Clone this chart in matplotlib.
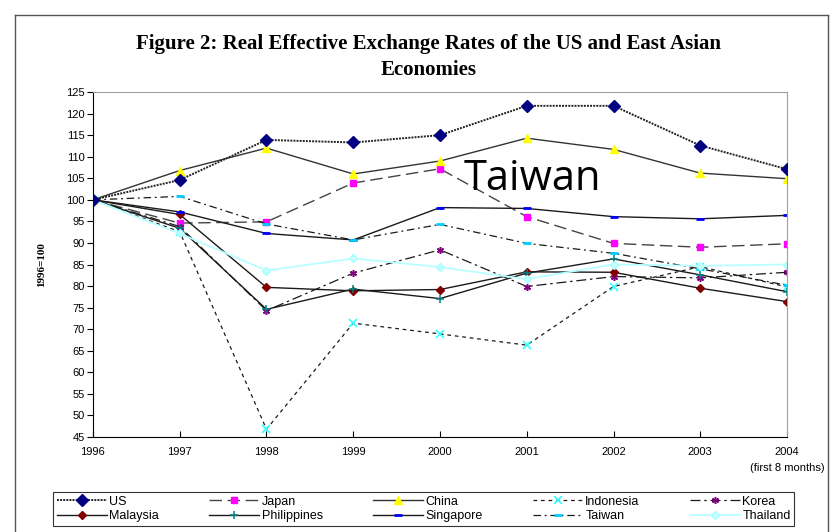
import matplotlib.pyplot as plt
from matplotlib.lines import Line2D

# REER index, 1996 = 100
years = [1996, 1997, 1998, 1999, 2000, 2001, 2002, 2003, 2004]
year_labels = ['1996', '1997', '1998', '1999', '2000', '2001', '2002', '2003', '2004']

us = [100, 104.6, 113.9, 113.3, 115.0, 121.8, 121.8, 112.6, 107.1]
japan = [100, 94.6, 94.9, 103.9, 107.2, 96.1, 89.9, 89.0, 89.8]
china = [100, 106.8, 112.0, 106.0, 109.0, 114.3, 111.7, 106.2, 104.9]
indonesia = [100, 92.6, 46.8, 71.4, 68.9, 66.3, 79.9, 84.5, 79.8]
korea = [100, 93.8, 74.3, 83.0, 88.4, 79.9, 82.2, 81.9, 83.2]
malaysia = [100, 96.6, 79.7, 78.9, 79.2, 83.3, 83.2, 79.5, 76.4]
philippines = [100, 93.4, 74.6, 79.3, 77.1, 83.0, 86.3, 82.6, 78.7]
singapore = [100, 97.2, 92.2, 90.7, 98.2, 98.0, 96.1, 95.6, 96.4]
taiwan = [100, 100.8, 94.4, 90.7, 94.3, 89.9, 87.6, 84.0, 80.2]
thailand = [100, 92.2, 83.6, 86.4, 84.4, 81.6, 85.0, 84.7, 85.0]

plt.rcParams['font.family'] = ['Liberation Sans', 'DejaVu Sans']

fig = plt.figure(figsize=(8.33, 5.32), dpi=100)
ax = fig.add_axes([0.1116, 0.1786, 0.8332, 0.6484])

lc = '#1a1a1a'
series = [
    # name, data, line kwargs
    ('US', us, dict(color='#222222', lw=1.4, ls=(0, (1, 0.6)), marker='D', ms=6.5,
                    mfc='#000080', mec='#000080', zorder=10)),
    ('Japan', japan, dict(color='#444444', lw=1.0, ls=(0, (9, 4)), marker='s', ms=5,
                          mfc='#FF00FF', mec='#FF00FF')),
    ('China', china, dict(color='#333333', lw=1.0, ls='-', marker='^', ms=5.5,
                          mfc='#FFFF00', mec='#FFFF00')),
    ('Indonesia', indonesia, dict(color=lc, lw=0.9, ls=(0, (3, 3)), marker='x', ms=5.5,
                                  mec='#33FFFF', mew=1.2)),
    ('Korea', korea, dict(color=lc, lw=0.9, ls=(0, (8, 3, 2, 3)), marker=(6, 2, 0), ms=5,
                          mec='#800080', mew=1.1)),
    ('Malaysia', malaysia, dict(color=lc, lw=1.0, ls='-', marker='D', ms=4,
                                mfc='#800000', mec='#800000')),
    ('Philippines', philippines, dict(color=lc, lw=1.0, ls='-', marker='+', ms=5.5,
                                      mec='#008080', mew=1.1)),
    ('Singapore', singapore, dict(color=lc, lw=1.0, ls='-', marker='_', ms=5.5,
                                  mec='#0000FF', mew=2.0)),
    ('Taiwan', taiwan, dict(color=lc, lw=0.9, ls=(0, (6, 3, 1.5, 3)), marker='_', ms=5.5,
                            mec='#00CCFF', mew=2.0)),
    ('Thailand', thailand, dict(color='#B8FFFF', lw=1.3, ls='-', marker='D', ms=4.5,
                                mfc='#C8FFFF', mec='#A8FFFF')),
]

handles = {}
for name, vals, kw in series:
    line, = ax.plot(years, vals, label=name, **kw)
    handles[name] = line

ax.set_xlim(1996, 2004)
ax.set_ylim(45, 125)
ax.set_yticks(range(45, 126, 5))
ax.set_xticks(years)
ax.set_xticklabels(year_labels)
ax.tick_params(axis='y', direction='out', length=4, labelsize=8, pad=2)
ax.tick_params(axis='x', direction='in', length=4, labelsize=8, pad=7)
for s in ('top', 'right'):
    ax.spines[s].set_color('#a0a0a0')
for s in ('left', 'bottom'):
    ax.spines[s].set_color('black')

ax.set_ylabel('1996=100', family='Liberation Serif', fontweight='bold', fontsize=8, labelpad=14)

ax.text(2004, 37.9, '(first 8 months)', ha='center', va='center', fontsize=8)

# big label placed over the plot area
ax.text(2000.27, 104.9, 'Taiwan', fontsize=30, family='Open Sans', ha='left', va='center')

fig.text(0.514, 0.918, 'Figure 2: Real Effective Exchange Rates of the US and East Asian',
         ha='center', va='center', family='Liberation Serif', fontweight='bold', fontsize=15)
fig.text(0.514, 0.869, 'Economies', ha='center', va='center',
         family='Liberation Serif', fontweight='bold', fontsize=15)

# legend laid out row by row
order = ['US', 'Malaysia', 'Japan', 'Philippines', 'China', 'Singapore',
         'Indonesia', 'Taiwan', 'Korea', 'Thailand']
leg = fig.legend([handles[n] for n in order], order, ncol=5, mode='expand',
                 bbox_to_anchor=(0.0636, 0.0113, 0.89, 0.0695), loc='lower left',
                 fontsize=9, handlelength=4.0, handletextpad=0.2, borderaxespad=0,
                 frameon=True, fancybox=False, edgecolor='black', borderpad=0.3,
                 labelspacing=0.2, columnspacing=1.0)
leg.get_frame().set_linewidth(0.8)

# page frame
fig.add_artist(Line2D([15 / 833, 15 / 833], [0, 1 - 15 / 532], transform=fig.transFigure,
                      color='#555555', lw=1))
fig.add_artist(Line2D([15 / 833, 828 / 833], [1 - 15 / 532, 1 - 15 / 532],
                      transform=fig.transFigure, color='#555555', lw=1))
fig.add_artist(Line2D([828 / 833, 828 / 833], [0, 1 - 15 / 532], transform=fig.transFigure,
                      color='#555555', lw=1))

fig.savefig('out.png', dpi=100)
